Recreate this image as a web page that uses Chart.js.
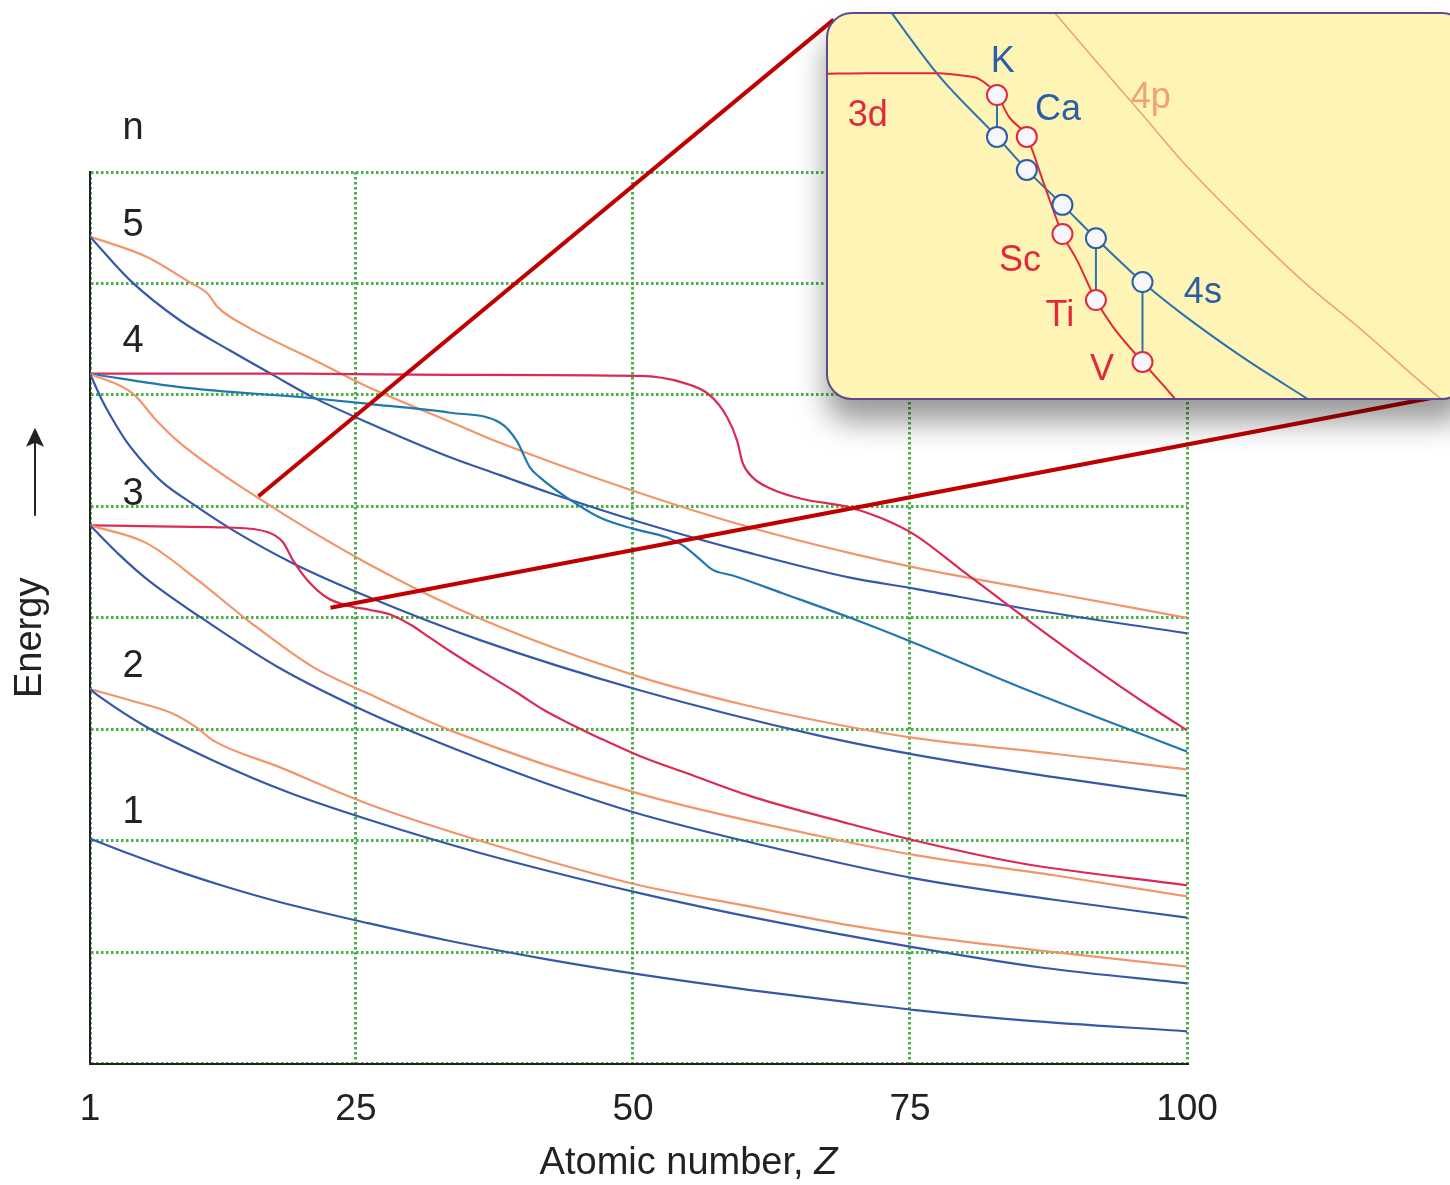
<!DOCTYPE html>
<html>
<head>
<meta charset="utf-8">
<title>Orbital energies versus atomic number</title>
<script src="https://cdn.jsdelivr.net/npm/chart.js@4.4.1/dist/chart.umd.min.js"></script>
<style>
  html, body { margin: 0; padding: 0; background: #ffffff; overflow: hidden; }
  #wrap { position: relative; width: 1450px; height: 1185px; }
  #main { position: absolute; left: 0; top: 0; }
  #inset {
    position: absolute; box-sizing: border-box;
    border: 2px solid #5d4a8e; background: #fdf4b6; overflow: hidden;
    box-shadow: 0 22px 30px rgba(0, 0, 0, 0.40);
  }
  #inset canvas { display: block; }
</style>
</head>
<body>
<div id="wrap">
  <canvas id="main" width="1450" height="1185"></canvas>
  <div id="inset"><canvas id="insetCanvas" width="638" height="384"></canvas></div>
</div>
<script>
// ---- Main panel: orbital energy (relative units) against atomic number Z ----
const X_TICKS = [1, 25, 50, 75, 100];

const Z_1S = [1, 4.6, 9.1, 13.5, 18.1, 26.1, 33.5, 42, 50.6, 60.6, 69.6, 75.5, 85, 100];
const E_1S = [2.02, 1.88, 1.72, 1.58, 1.45, 1.26, 1.10, 0.94, 0.80, 0.66, 0.55, 0.48, 0.39, 0.29];

const Z_2S = [1, 1.9, 6.1, 12.1, 19, 26.1, 36.2, 50.6, 62.4, 75.5, 87, 100];
const E_2S = [3.36, 3.29, 3.02, 2.72, 2.43, 2.19, 1.89, 1.53, 1.28, 1.04, 0.86, 0.72];

const Z_2P = [1, 4.6, 8.5, 10.7, 12.1, 18.1, 26.1, 36.2, 50.6, 60, 69.6, 75.5, 88, 100];
const E_2P = [3.36, 3.26, 3.14, 3.01, 2.90, 2.66, 2.33, 2.00, 1.60, 1.42, 1.24, 1.15, 1.00, 0.87];

const Z_3S = [1, 3.7, 6.1, 12.1, 18.1, 26.1, 33.5, 42, 50.6, 66.9, 75.5, 88, 100];
const E_3S = [4.83, 4.56, 4.35, 3.93, 3.55, 3.15, 2.84, 2.52, 2.24, 1.84, 1.66, 1.47, 1.31];

const Z_3P = [1, 6.1, 10.7, 15.2, 21.1, 26.1, 33.5, 50.6, 66.9, 75.5, 88, 100];
const E_3P = [4.83, 4.67, 4.34, 3.98, 3.56, 3.32, 2.99, 2.42, 2.04, 1.87, 1.69, 1.50];

const Z_3D = [1, 7, 13.4, 17.0, 18.4, 19.3, 20.6, 22.4, 24.2, 26.3, 28.1, 29.9, 31.7, 33.5, 36.2, 39.5, 42, 44.3, 47, 50.6, 55, 60.6, 69.6, 75.5, 84.9, 100];
const E_3D = [4.83, 4.82, 4.81, 4.77, 4.68, 4.52, 4.34, 4.18, 4.11, 4.07, 4.03, 3.94, 3.82, 3.70, 3.53, 3.33, 3.17, 3.05, 2.92, 2.76, 2.60, 2.40, 2.15, 2.00, 1.80, 1.60];

const Z_4S = [1, 2, 3.1, 4.3, 5.5, 7.5, 10.3, 14, 19.3, 26.3, 36.2, 50.6, 66.9, 75.5, 88, 100];
const E_4S = [6.19, 5.97, 5.77, 5.58, 5.43, 5.22, 5.02, 4.78, 4.49, 4.18, 3.80, 3.35, 2.94, 2.77, 2.57, 2.40];

const Z_4P = [1, 4.9, 7.0, 9.1, 16.1, 26.0, 36.5, 50.6, 60, 69.6, 75.5, 88, 100];
const E_4P = [6.19, 6.01, 5.77, 5.57, 5.08, 4.49, 3.98, 3.47, 3.22, 3.02, 2.92, 2.78, 2.64];

const Z_4D = [1, 9.1, 21.1, 26.1, 33.5, 38.0, 39.5, 40.7, 41.6, 44.0, 47.0, 50.0, 53.1, 54.5, 56.1, 57.2, 59.0, 63.5, 69.6, 75.5, 84.9, 100];
const E_4D = [6.19, 6.07, 5.97, 5.92, 5.84, 5.75, 5.59, 5.35, 5.26, 5.08, 4.90, 4.80, 4.72, 4.65, 4.52, 4.43, 4.38, 4.22, 4.00, 3.77, 3.38, 2.80];

const Z_4F = [1, 20, 33.5, 50.6, 54.5, 56.9, 58.5, 59.4, 59.9, 60.8, 62.4, 65.1, 69.6, 72.5, 75.5, 79.5, 83.1, 86.7, 90.3, 93.9, 97.5, 100];
const E_4F = [6.19, 6.19, 6.18, 6.17, 6.11, 6.00, 5.80, 5.59, 5.39, 5.26, 5.16, 5.07, 4.99, 4.89, 4.74, 4.44, 4.17, 3.90, 3.64, 3.39, 3.15, 2.99];

const Z_5S = [1, 4.6, 9.1, 13.6, 17.5, 21.1, 26.1, 33.5, 38.0, 42.5, 50.6, 60.6, 69.6, 75.5, 84.9, 100];
const E_5S = [7.42, 7.03, 6.67, 6.40, 6.18, 5.98, 5.75, 5.44, 5.28, 5.12, 4.86, 4.58, 4.36, 4.26, 4.09, 3.86];

const Z_5P = [1, 6.1, 10.0, 11.6, 12.5, 15.2, 21.1, 26.1, 33.5, 38.0, 50.6, 60.6, 69.6, 75.5, 88, 100];
const E_5P = [7.42, 7.24, 7.01, 6.91, 6.79, 6.61, 6.32, 6.07, 5.76, 5.57, 5.12, 4.81, 4.58, 4.45, 4.22, 4.00];

// Principal quantum number labels and the energy at which each is written
const N_LABELS = ['n', '5', '4', '3', '2', '1'];
const N_LABEL_E = [8.39, 7.52, 6.48, 5.11, 3.56, 2.25];

// Points on the main panel that the magnified view is taken from
const ZOOM_FROM_Z = [16.2, 22.7];
const ZOOM_FROM_E = [5.09, 4.09];

// ---- Inset: 3d / 4s crossing for K to V (schematic position, relative energy) ----
const INSET_ELEMENTS = ['K', 'Ca', 'Sc', 'Ti', 'V'];
const INSET_POS = [19.0, 19.82, 20.8, 21.72, 23.0];
const INSET_3D_AT = [78.9, 68.0, 42.7, 25.5, 9.4];
const INSET_4S_AT = [68.0, 59.4, 50.3, 41.6, 30.2];
const INSET_LINKED = ['K', 'Ti', 'V'];

const INSET_3D_X = [14.2, 15.5, 17.4, 18.1, 18.5, 19.0, 19.33, 19.82, 20.3, 20.8, 21.2, 21.72, 22.19, 23.0, 23.73, 23.9];
const INSET_3D_E = [84.4, 84.6, 84.6, 83.9, 83.1, 78.9, 73.2, 68.0, 55.5, 42.7, 35.9, 25.5, 18.5, 9.4, 1.6, -0.3];

const INSET_4S_X = [15.8, 17.43, 19.0, 19.82, 20.8, 21.72, 23.0, 24.06, 25.74, 27.5, 27.9];
const INSET_4S_E = [104.2, 83.6, 68.0, 59.4, 50.3, 41.6, 30.2, 22.1, 10.7, 0, -2.4];

const INSET_4P_X = [20.3, 21.86, 22.96, 24.06, 25.74, 27.38, 29.03, 31.01, 31.4];
const INSET_4P_E = [103.5, 86.2, 74.2, 62.0, 45.6, 30.7, 17.7, 1.3, -1.5];

const INSET_TEXT = ['K', 'Ca', '3d', '4p', 'Sc', 'Ti', 'V', '4s'];
const INSET_TEXT_X = [19.16, 20.68, 15.45, 23.23, 19.63, 20.73, 21.89, 24.66];
const INSET_TEXT_E = [87.5, 75.0, 73.4, 78.1, 35.7, 21.4, 7.3, 27.3];
const INSET_TEXT_KIND = ['s', 's', 'd', 'p', 'd', 'd', 'd', 's'];

// ---- Styling ----
const FONT = '"Liberation Sans", Arial, Helvetica, sans-serif';
const COL_S = '#3658a8';
const COL_P = '#f2956a';
const COL_D = '#dc2955';
const COL_4D = '#1f78b0';
const COL_GRID = '#48b148';
const COL_ZOOM = '#c00000';
const INSET_COL = { s: '#2c5ea8', d: '#e2283c', p: '#f0a274', line4s: '#2a73ad' };
const INSET_BOX = { left: 826, top: 12, width: 642, height: 388, radius: 26 };

const MAIN_SERIES = [
  ['1s', Z_1S, E_1S, COL_S], ['2s', Z_2S, E_2S, COL_S], ['2p', Z_2P, E_2P, COL_P],
  ['3s', Z_3S, E_3S, COL_S], ['3p', Z_3P, E_3P, COL_P], ['3d', Z_3D, E_3D, COL_D],
  ['4s', Z_4S, E_4S, COL_S], ['4p', Z_4P, E_4P, COL_P], ['4d', Z_4D, E_4D, COL_4D],
  ['4f', Z_4F, E_4F, COL_D], ['5s', Z_5S, E_5S, COL_S], ['5p', Z_5P, E_5P, COL_P]
];

const pairs = (xs, ys) => xs.map((v, i) => ({ x: v, y: ys[i] }));

const insetEl = document.getElementById('inset');
Object.assign(insetEl.style, {
  left: INSET_BOX.left + 'px', top: INSET_BOX.top + 'px',
  width: INSET_BOX.width + 'px', height: INSET_BOX.height + 'px',
  borderRadius: INSET_BOX.radius + 'px'
});

// Text and guide lines drawn on top of the main panel
const mainDecor = {
  id: 'mainDecor',
  afterDraw(chart) {
    const { ctx, chartArea: area, scales: { x, y } } = chart;
    ctx.save();

    // n labels
    ctx.fillStyle = '#222';
    ctx.font = '38px ' + FONT;
    ctx.textAlign = 'center';
    ctx.textBaseline = 'middle';
    N_LABELS.forEach((t, i) => ctx.fillText(t, area.left + 43, y.getPixelForValue(N_LABEL_E[i])));

    // Energy title with upward arrow
    const midY = (area.top + area.bottom) / 2;
    ctx.save();
    ctx.translate(31, midY + 20);
    ctx.rotate(-Math.PI / 2);
    ctx.fillText('Energy', 0, 0);
    ctx.restore();
    const ax = 35, aTop = midY - 190, aBot = midY - 102;
    ctx.strokeStyle = '#222';
    ctx.lineWidth = 2;
    ctx.beginPath();
    ctx.moveTo(ax, aBot);
    ctx.lineTo(ax, aTop + 12);
    ctx.stroke();
    ctx.beginPath();
    ctx.moveTo(ax, aTop);
    ctx.lineTo(ax - 9, aTop + 19);
    ctx.lineTo(ax, aTop + 15);
    ctx.lineTo(ax + 9, aTop + 19);
    ctx.closePath();
    ctx.fill();

    // x-axis title, with italic Z
    const plain = 'Atomic number, ';
    const fPlain = '38px ' + FONT, fItal = 'italic 38px ' + FONT;
    ctx.font = fPlain;
    const w1 = ctx.measureText(plain).width;
    ctx.font = fItal;
    const w2 = ctx.measureText('Z').width;
    const cx = (area.left + area.right) / 2 + 50;
    const ty = area.bottom + 100;
    ctx.textAlign = 'left';
    ctx.font = fPlain;
    ctx.fillText(plain, cx - (w1 + w2) / 2, ty);
    ctx.font = fItal;
    ctx.fillText('Z', cx - (w1 + w2) / 2 + w1, ty);

    // Guide lines from the main panel to the magnified view's corners
    const c = INSET_BOX.radius * (1 - Math.SQRT1_2);
    const ends = [
      [INSET_BOX.left + c, INSET_BOX.top + c],
      [INSET_BOX.left + INSET_BOX.width - c, INSET_BOX.top + INSET_BOX.height - c]
    ];
    ctx.strokeStyle = COL_ZOOM;
    ctx.lineWidth = 4;
    ZOOM_FROM_Z.forEach((z, i) => {
      ctx.beginPath();
      ctx.moveTo(x.getPixelForValue(z), y.getPixelForValue(ZOOM_FROM_E[i]));
      ctx.lineTo(ends[i][0], ends[i][1]);
      ctx.stroke();
    });
    ctx.restore();
  }
};

new Chart(document.getElementById('main'), {
  type: 'line',
  data: {
    datasets: MAIN_SERIES.map(([label, zs, es, color]) => ({
      label, data: pairs(zs, es), borderColor: color, borderWidth: 2.2,
      pointRadius: 0, fill: false, cubicInterpolationMode: 'monotone'
    }))
  },
  options: {
    responsive: false, animation: false, devicePixelRatio: 1,
    layout: { autoPadding: false, padding: { left: 90, top: 172, right: 263, bottom: 29 } },
    plugins: { legend: { display: false }, tooltip: { enabled: false } },
    scales: {
      x: {
        type: 'linear', min: 1, max: 100,
        afterBuildTicks: s => { s.ticks = X_TICKS.map(v => ({ value: v })); },
        grid: { color: COL_GRID, lineWidth: 3, drawTicks: false },
        border: { display: true, color: '#222', width: 2, dash: [2.5, 2.5] },
        ticks: { color: '#222', padding: 24, maxRotation: 0, autoSkip: false, font: { family: FONT, size: 37 } }
      },
      y: {
        type: 'linear', min: 0, max: 8,
        ticks: { display: false, stepSize: 1 },
        grid: { color: COL_GRID, lineWidth: 3, drawTicks: false },
        border: { display: true, color: '#222', width: 2, dash: [2.5, 2.5] }
      }
    }
  },
  plugins: [mainDecor]
});

// ---- Inset chart ----
const insetLabels = {
  id: 'insetLabels',
  afterDraw(chart) {
    const { ctx, scales: { x, y } } = chart;
    ctx.save();
    ctx.font = '36px ' + FONT;
    ctx.textAlign = 'center';
    ctx.textBaseline = 'middle';
    INSET_TEXT.forEach((t, i) => {
      ctx.fillStyle = INSET_COL[INSET_TEXT_KIND[i]];
      ctx.fillText(t, x.getPixelForValue(INSET_TEXT_X[i]), y.getPixelForValue(INSET_TEXT_E[i]));
    });
    ctx.restore();
  }
};

const linkSets = INSET_LINKED.map(name => {
  const i = INSET_ELEMENTS.indexOf(name);
  return {
    label: name + ' link', order: 1,
    data: [{ x: INSET_POS[i], y: INSET_3D_AT[i] }, { x: INSET_POS[i], y: INSET_4S_AT[i] }],
    borderColor: INSET_COL.line4s, borderWidth: 2, pointRadius: 0
  };
});

new Chart(document.getElementById('insetCanvas'), {
  type: 'line',
  data: {
    datasets: [
      { label: '3d', order: 0, showLine: false, data: pairs(INSET_POS, INSET_3D_AT),
        pointRadius: 10, pointBorderWidth: 2, pointBorderColor: INSET_COL.d, pointBackgroundColor: '#f7f6fb' },
      { label: '4s', order: 0, showLine: false, data: pairs(INSET_POS, INSET_4S_AT),
        pointRadius: 10, pointBorderWidth: 2, pointBorderColor: INSET_COL.s, pointBackgroundColor: '#f7f6fb' },
      ...linkSets,
      { label: '3d curve', order: 2, data: pairs(INSET_3D_X, INSET_3D_E), borderColor: INSET_COL.d,
        borderWidth: 2, pointRadius: 0, cubicInterpolationMode: 'monotone' },
      { label: '4s curve', order: 2, data: pairs(INSET_4S_X, INSET_4S_E), borderColor: INSET_COL.line4s,
        borderWidth: 2, pointRadius: 0, cubicInterpolationMode: 'monotone' },
      { label: '4p curve', order: 2, data: pairs(INSET_4P_X, INSET_4P_E), borderColor: INSET_COL.p,
        borderWidth: 1.6, pointRadius: 0, cubicInterpolationMode: 'monotone' }
    ]
  },
  options: {
    responsive: false, animation: false, devicePixelRatio: 1,
    layout: { autoPadding: false, padding: 0 },
    plugins: { legend: { display: false }, tooltip: { enabled: false } },
    scales: {
      x: { type: 'linear', display: false, min: 14.354, max: 31.894 },
      y: { type: 'linear', display: false, min: 0, max: 100 }
    }
  },
  plugins: [insetLabels]
});
</script>
</body>
</html>
